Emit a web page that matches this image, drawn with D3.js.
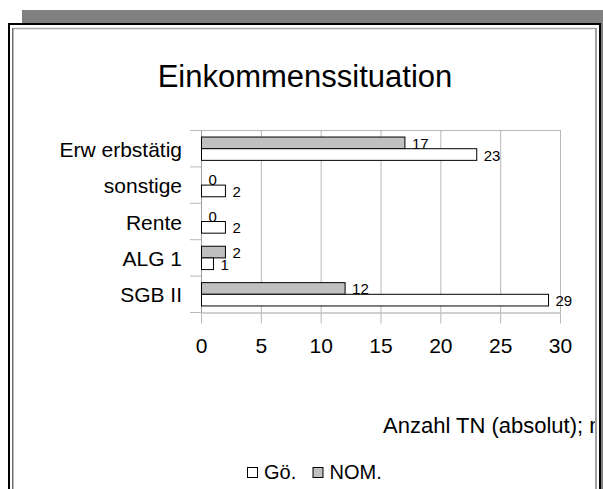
<!DOCTYPE html>
<html>
<head>
<meta charset="utf-8">
<script src="https://cdn.jsdelivr.net/npm/d3@7"></script>
<style>
  html, body { margin: 0; padding: 0; background: #fff; }
  svg { display: block; font-family: 'Liberation Sans', Arial, sans-serif; }
</style>
</head>
<body>
<script>
// chart data
var categories = ['Erw erbstätig', 'sonstige', 'Rente', 'ALG 1', 'SGB II'];
var seriesNames = ['Gö.', 'NOM.'];
var goValues  = [23, 2, 2, 1, 29];
var nomValues = [17, 0, 0, 2, 12];
var xTicks = [0, 5, 10, 15, 20, 25, 30];
var titleText = 'Einkommenssituation';
var axisTitle = 'Anzahl TN (absolut); n';

var W = 603, H = 489;
var plot_left = 201, plot_right = 560, plot_top = 130, plot_bottom = 312;
var grid_col = '#b8b8b8';

var svg = d3.select('body').append('svg')
    .attr('width', W)
    .attr('height', H);

// frame: grey band, black box, inset grey lines
svg.append('rect')
  .attr('x', 22).attr('y', 10)
  .attr('width', 600).attr('height', 600)
  .attr('fill', '#808080');
svg.append('rect')
  .attr('x', 9).attr('y', 24)
  .attr('width', 591).attr('height', 600)
  .attr('fill', '#fff')
  .attr('stroke', '#000')
  .attr('stroke-width', 2);
svg.append('line')
  .attr('x1', 12.5).attr('x2', 596).attr('y1', 28.5).attr('y2', 28.5)
  .attr('stroke', '#a8a8a8').attr('stroke-width', 1.5);
svg.append('line')
  .attr('x1', 12.75).attr('x2', 12.75).attr('y1', 28).attr('y2', H)
  .attr('stroke', '#707070').attr('stroke-width', 1.5);
svg.append('line')
  .attr('x1', 596).attr('x2', 596).attr('y1', 28).attr('y2', H)
  .attr('stroke', '#808080').attr('stroke-width', 1.5);

svg.append('defs').append('clipPath')
  .attr('id', 'inner')
  .append('rect')
  .attr('x', 13.5).attr('y', 29.5)
  .attr('width', 581.5).attr('height', H);

// title
svg.append('text')
  .attr('x', 305)
  .attr('y', 87)
  .attr('text-anchor', 'middle')
  .style('font-size', '31px')
  .text(titleText);

// scales
var x = d3.scaleLinear()
    .domain([0, 30])
    .range([plot_left, plot_right]);

var y = d3.scaleBand()
    .domain(categories)
    .range([plot_top, plot_bottom])
    .padding(0);

// NOM sits on top, Gö below inside each group
var ySub = d3.scaleBand()
    .domain(['NOM.', 'Gö.'])
    .range([0, y.bandwidth()])
    .paddingInner(0)
    .paddingOuter(0.56);

// grid + plot border
var grid = svg.append('g').attr('class', 'grid');
grid.selectAll('line.v').data(xTicks).enter().append('line')
  .attr('class', 'v')
  .attr('x1', function(d) { return x(d) + 0.5; })
  .attr('x2', function(d) { return x(d) + 0.5; })
  .attr('y1', plot_top)
  .attr('y2', plot_bottom)
  .attr('stroke', grid_col);
grid.append('line')
  .attr('x1', plot_left).attr('x2', plot_right + 0.5)
  .attr('y1', plot_top + 0.5).attr('y2', plot_top + 0.5)
  .attr('stroke', grid_col);

// y axis: category labels + boundary ticks
var y_axis = d3.axisLeft(y).tickSize(0).tickPadding(19);
var yaxis = svg.append('g')
    .attr('class', 'y_axis')
    .attr('transform', 'translate(' + plot_left + ',0)')
    .call(y_axis);
yaxis.select('.domain').remove();
yaxis.selectAll('text')
  .attr('dy', null)
  .attr('y', 8.5)
  .style('font-size', '21px')
  .style('font-family', "'Liberation Sans', Arial, sans-serif")
  .attr('fill', '#000');

var bounds = categories.map(function(c) { return y(c); }).concat([plot_bottom]);
svg.append('g').selectAll('line').data(bounds).enter().append('line')
  .attr('x1', plot_left - 11).attr('x2', plot_left)
  .attr('y1', function(d) { return d + 0.5; })
  .attr('y2', function(d) { return d + 0.5; })
  .attr('stroke', grid_col);
svg.append('line')
  .attr('x1', plot_left + 0.5).attr('x2', plot_left + 0.5)
  .attr('y1', plot_top).attr('y2', plot_bottom + 0.5)
  .attr('stroke', '#a0a0a0');

// x axis
var x_axis = d3.axisBottom(x)
    .tickValues(xTicks)
    .tickSize(11)
    .tickPadding(14.5)
    .tickSizeOuter(0);
var xaxis = svg.append('g')
    .attr('class', 'x_axis')
    .attr('transform', 'translate(0,' + (plot_bottom + 0.5) + ')')
    .call(x_axis);
xaxis.select('.domain').attr('stroke', '#a0a0a0');
xaxis.selectAll('.tick line').attr('stroke', grid_col);
xaxis.selectAll('text')
  .style('font-size', '21px')
  .style('font-family', "'Liberation Sans', Arial, sans-serif")
  .attr('fill', '#000');

// bars, series by series (labels of one series may sit under the next bars)
function drawSeries(name, values, fill) {
  var g = svg.append('g').attr('class', 'series');
  g.selectAll('rect').data(values).enter().append('rect')
    .attr('x', x(0) + 0.5)
    .attr('y', function(d, i) { return y(categories[i]) + ySub(name) + 0.5; })
    .attr('width', function(d) { return x(d) - x(0); })
    .attr('height', ySub.bandwidth())
    .attr('fill', fill)
    .attr('stroke', '#000')
    .attr('stroke-width', 1);
  g.selectAll('text').data(values).enter().append('text')
    .attr('x', function(d) { return x(d) + 7.5; })
    .attr('y', function(d, i) { return y(categories[i]) + ySub(name) + ySub.bandwidth() / 2 + 6.5; })
    .style('font-size', '15px')
    .text(function(d) { return d; });
}
drawSeries('NOM.', nomValues, '#c0c0c0');
drawSeries('Gö.', goValues, '#ffffff');

// axis title, clipped by the frame
svg.append('text')
  .attr('clip-path', 'url(#inner)')
  .attr('x', 383)
  .attr('y', 433)
  .style('font-size', '22px')
  .text(axisTitle);

// legend
var legendFill = { 'Gö.': '#ffffff', 'NOM.': '#c0c0c0' };
var legendX = [247, 312.5];
var lg = svg.append('g').attr('class', 'legend');
var items = lg.selectAll('g').data(seriesNames).enter().append('g')
  .attr('transform', function(d, i) { return 'translate(' + legendX[i] + ',467)'; });
items.append('rect')
  .attr('x', 0.5).attr('y', 0.5)
  .attr('width', 10).attr('height', 10)
  .attr('fill', function(d) { return legendFill[d]; })
  .attr('stroke', '#000');
items.append('text')
  .attr('x', 17)
  .attr('y', 12)
  .style('font-size', '20px')
  .text(function(d) { return d; });
</script>
</body>
</html>
